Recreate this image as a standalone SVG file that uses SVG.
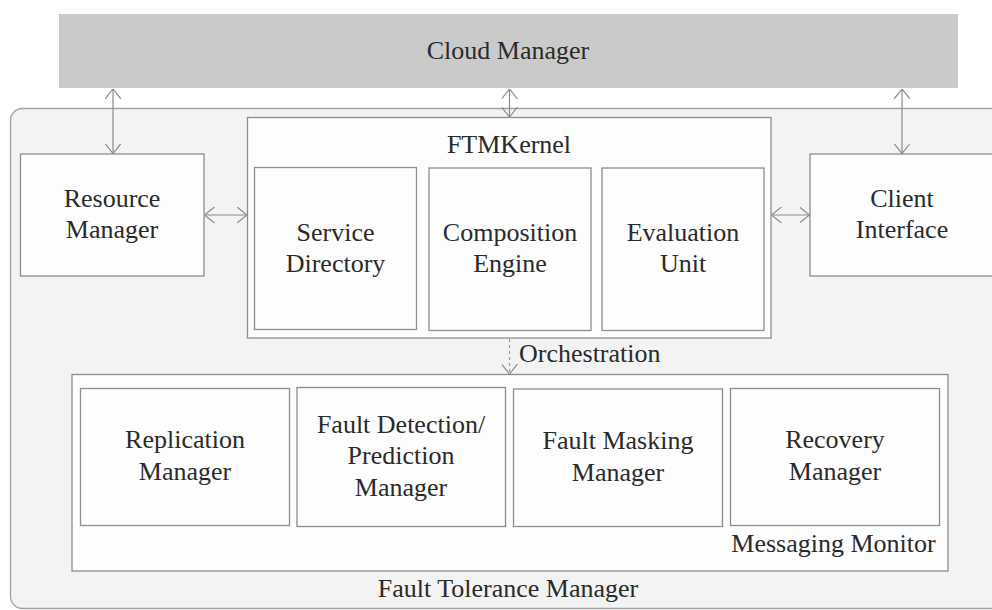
<svg xmlns="http://www.w3.org/2000/svg" width="992" height="610" viewBox="0 0 992 610" font-family="'Liberation Serif', 'Times New Roman', serif">
  <defs>
    <style>
      .box { fill: #fdfdfd; stroke: #8e8e8e; stroke-width: 1.3; }
      .frame { fill: #f3f3f4; stroke: #a2a2a2; stroke-width: 1.3; }
      .lbl { font-family: 'Liberation Serif', 'Times New Roman', serif; font-size: 26px; fill: #2a2a2a; text-anchor: middle; }
      .conn { fill: none; stroke: #8a8a8a; stroke-width: 1.2; }
      .dash { stroke-dasharray: 3 3; stroke: #9a9a9a; }
    </style>
    <marker id="head" viewBox="0 0 10 16" refX="10" refY="8" markerWidth="10" markerHeight="16" markerUnits="userSpaceOnUse" orient="auto-start-reverse">
      <path d="M0,0 L10,8 L0,16" fill="none" stroke="#8a8a8a" stroke-width="1.2"/>
    </marker>
  </defs>

  <rect width="992" height="610" fill="#ffffff"/>

  <!-- Fault Tolerance Manager: outer rounded frame -->
  <g id="fault-tolerance-manager">
    <rect class="frame" x="10.5" y="108.5" width="1000" height="500" rx="12" ry="12"/>
    <text class="lbl" x="508" y="597">Fault Tolerance Manager</text>
  </g>

  <!-- Cloud Manager bar -->
  <g id="cloud-manager">
    <rect x="59" y="14" width="899" height="74" fill="#cacaca"/>
    <text class="lbl" x="508" y="59">Cloud Manager</text>
  </g>

  <g id="resource-manager">
    <rect class="box" x="20.5" y="154" width="183.5" height="122"/>
    <text class="lbl" x="112" y="207">Resource</text>
    <text class="lbl" x="112" y="238">Manager</text>
  </g>

  <g id="client-interface">
    <rect class="box" x="810" y="154" width="184" height="122"/>
    <text class="lbl" x="902" y="207">Client</text>
    <text class="lbl" x="902" y="238">Interface</text>
  </g>

  <!-- FTMKernel with its three components -->
  <g id="ftm-kernel">
    <rect class="box" x="247.5" y="117.5" width="523.5" height="220.5"/>
    <text class="lbl" x="509" y="153">FTMKernel</text>
  </g>
  <g id="service-directory">
    <rect class="box" x="254.5" y="167.5" width="162" height="162"/>
    <text class="lbl" x="335.5" y="241">Service</text>
    <text class="lbl" x="335.5" y="272">Directory</text>
  </g>
  <g id="composition-engine">
    <rect class="box" x="429" y="168" width="162" height="162.5"/>
    <text class="lbl" x="510" y="241">Composition</text>
    <text class="lbl" x="510" y="272">Engine</text>
  </g>
  <g id="evaluation-unit">
    <rect class="box" x="602" y="168" width="162" height="162.5"/>
    <text class="lbl" x="683" y="241">Evaluation</text>
    <text class="lbl" x="683" y="272">Unit</text>
  </g>

  <!-- Messaging Monitor with its four managers -->
  <g id="messaging-monitor">
    <rect class="box" x="72" y="374.5" width="876" height="196.5"/>
    <text class="lbl" x="833.5" y="552">Messaging Monitor</text>
  </g>
  <g id="replication-manager">
    <rect class="box" x="80.5" y="388.5" width="209" height="137"/>
    <text class="lbl" x="185" y="448">Replication</text>
    <text class="lbl" x="185" y="480">Manager</text>
  </g>
  <g id="fault-detection-manager">
    <rect class="box" x="297" y="387.5" width="208.5" height="139"/>
    <text class="lbl" x="401" y="433">Fault Detection/</text>
    <text class="lbl" x="401" y="464">Prediction</text>
    <text class="lbl" x="401" y="496">Manager</text>
  </g>
  <g id="fault-masking-manager">
    <rect class="box" x="513.5" y="389" width="209" height="137.5"/>
    <text class="lbl" x="618" y="449">Fault Masking</text>
    <text class="lbl" x="618" y="481">Manager</text>
  </g>
  <g id="recovery-manager">
    <rect class="box" x="730.5" y="388.5" width="209" height="137"/>
    <text class="lbl" x="835" y="448">Recovery</text>
    <text class="lbl" x="835" y="480">Manager</text>
  </g>

  <!-- Connectors -->
  <g id="connectors">
    <line class="conn" x1="113" y1="89" x2="113" y2="153.5" marker-start="url(#head)" marker-end="url(#head)"/>
    <line class="conn" x1="509.5" y1="89" x2="509.5" y2="117" marker-start="url(#head)" marker-end="url(#head)"/>
    <line class="conn" x1="902" y1="89" x2="902" y2="153.5" marker-start="url(#head)" marker-end="url(#head)"/>
    <line class="conn" x1="204.5" y1="215" x2="247" y2="215" marker-start="url(#head)" marker-end="url(#head)"/>
    <line class="conn" x1="771.5" y1="215" x2="809.5" y2="215" marker-start="url(#head)" marker-end="url(#head)"/>
    <line class="conn dash" x1="509.5" y1="339" x2="509.5" y2="374" marker-end="url(#head)"/>
    <text class="lbl" x="519" y="362" style="text-anchor:start">Orchestration</text>
  </g>
</svg>
